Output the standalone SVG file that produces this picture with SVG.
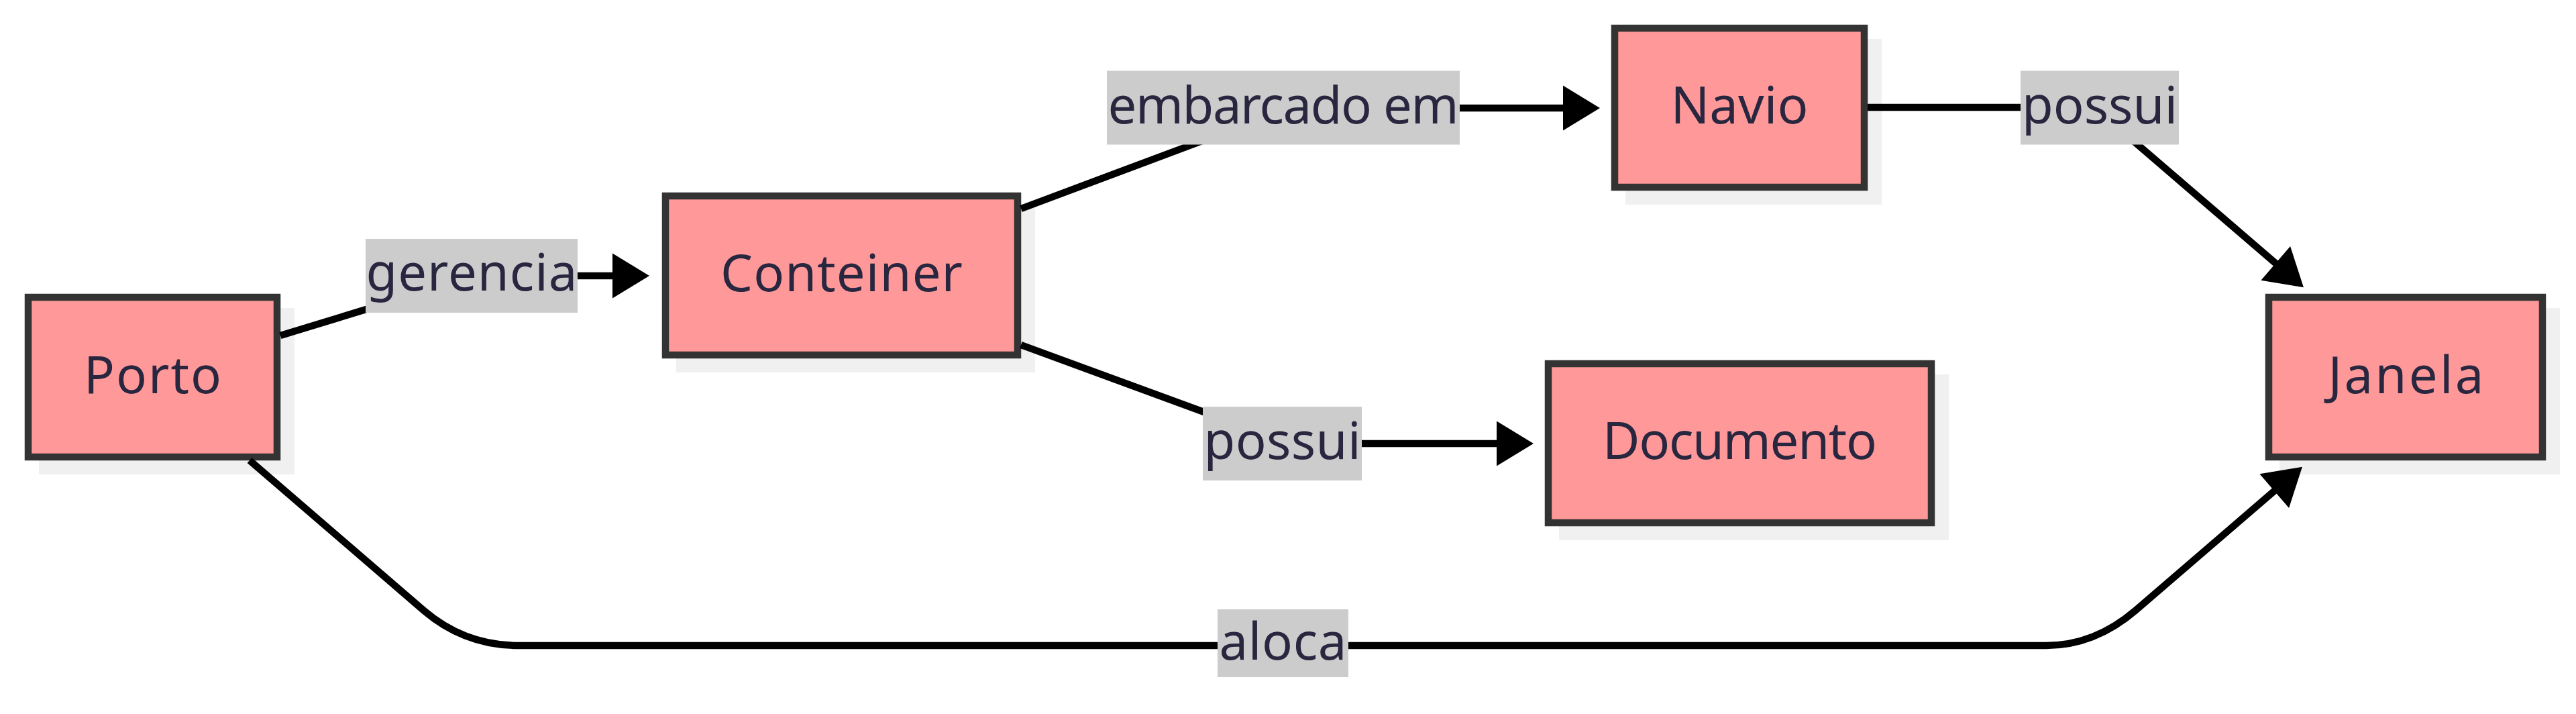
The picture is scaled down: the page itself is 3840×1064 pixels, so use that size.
<svg xmlns="http://www.w3.org/2000/svg" width="3840" height="1064" viewBox="0 0 3840 1064">
<defs>
<marker id="arrow" markerUnits="userSpaceOnUse" viewBox="0 0 55 67" markerWidth="55" markerHeight="67" refX="1" refY="33.5" orient="auto" overflow="visible">
<path d="M0,0 L55,33.5 L0,67 Z" fill="#000"/>
</marker>
</defs>
<style>
.shadow{fill:#f0f0f0;}
.box{fill:#ff9999;stroke:#333333;stroke-width:10.5;}
.t{font-family:"Noto Sans","Open Sans","Liberation Sans",sans-serif;font-size:76px;fill:#29263f;text-anchor:middle;}
.edge{fill:none;stroke:#000;stroke-width:10.5;marker-end:url(#arrow);}
.lbl{fill:#cccccc;}
</style>
<rect width="3840" height="1064" fill="#ffffff"/>
<g id="node-Porto">
<rect class="shadow" x="58" y="459" width="381" height="248"/>
<rect class="box" x="42" y="443" width="371" height="238"/>
<text class="t" x="227.5" y="585.5" textLength="205" lengthAdjust="spacing">Porto</text>
</g>
<g id="node-Conteiner">
<rect class="shadow" x="1008" y="308" width="535" height="247"/>
<rect class="box" x="992" y="292" width="525" height="237"/>
<text class="t" x="1254.5" y="434" textLength="361" lengthAdjust="spacing">Conteiner</text>
</g>
<g id="node-Navio">
<rect class="shadow" x="2423" y="58" width="382" height="247"/>
<rect class="box" x="2407" y="42" width="372" height="237"/>
<text class="t" x="2593" y="184" textLength="205" lengthAdjust="spacing">Navio</text>
</g>
<g id="node-Documento">
<rect class="shadow" x="2324" y="558" width="581" height="247"/>
<rect class="box" x="2308" y="542" width="571" height="237"/>
<text class="t" x="2593.5" y="684" textLength="409" lengthAdjust="spacing">Documento</text>
</g>
<g id="node-Janela">
<rect class="shadow" x="3398" y="459" width="418" height="248"/>
<rect class="box" x="3382" y="443" width="408" height="238"/>
<text class="t" x="3586.5" y="585.5" textLength="232" lengthAdjust="spacing">Janela</text>
</g>
<g id="connectors">
<path class="edge" d="M418,500 L710,411 L914,411"/>
<path class="edge" d="M1522,311 L1923,161 L2331,161"/>
<path class="edge" d="M1522,514 L1923,661 L2232,661"/>
<path class="edge" d="M2784,160 L3122,160 L3393,393"/>
<path class="edge" d="M372,686 L632,910 Q693,962 773,962 L3050,962 Q3122,962 3183,910 L3391,731"/>
</g>
<g id="edge-labels">
<g id="label-gerencia">
<rect class="lbl" x="545" y="356" width="316" height="110"/>
<text class="t" x="703" y="433" textLength="315" lengthAdjust="spacing">gerencia</text>
</g>
<g id="label-embarcado">
<rect class="lbl" x="1650" y="105.5" width="526" height="110"/>
<text class="t" x="1913" y="183.5" textLength="523" lengthAdjust="spacing">embarcado em</text>
</g>
<g id="label-possui-doc">
<rect class="lbl" x="1793" y="606" width="237" height="110"/>
<text class="t" x="1911.5" y="684" textLength="234" lengthAdjust="spacing">possui</text>
</g>
<g id="label-possui-janela">
<rect class="lbl" x="3012" y="105.5" width="236" height="110"/>
<text class="t" x="3130" y="184" textLength="232" lengthAdjust="spacing">possui</text>
</g>
<g id="label-aloca">
<rect class="lbl" x="1815" y="908" width="195" height="101"/>
<text class="t" x="1912.5" y="983" textLength="190" lengthAdjust="spacing">aloca</text>
</g>
</g>
</svg>
